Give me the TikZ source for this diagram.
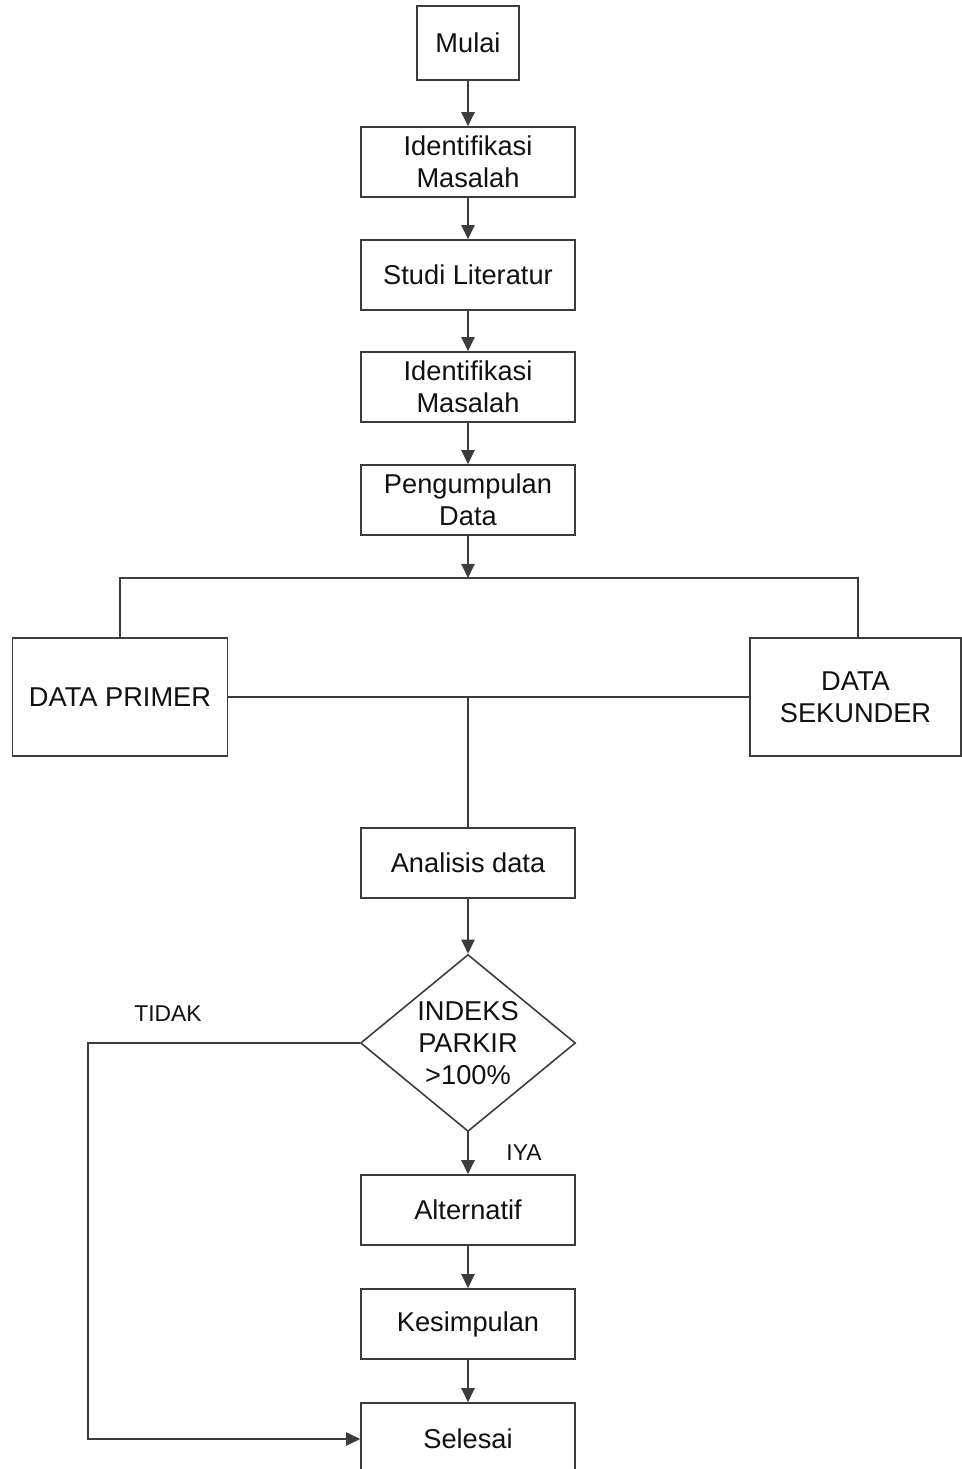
\documentclass[tikz,border=0pt]{standalone}
\usepackage{fontspec}
\setmainfont{Liberation Sans}[Ligatures=CommonOff]
\usepackage{tikz}
\usetikzlibrary{shapes.geometric,arrows.meta}
\definecolor{linec}{HTML}{3C3C3C}
\definecolor{textc}{HTML}{111111}
\tikzset{
  stepbox/.style={draw=linec, line width=0.9pt, fill=white, text=textc, align=center, inner sep=2pt,
    minimum width=4.28cm, minimum height=1.4cm, font=\fontsize{15.5}{18}\selectfont},
  databox/.style={stepbox, minimum height=2.36cm},
  decide/.style={draw=linec, line width=0.9pt, diamond, aspect=1.21, inner sep=0pt, text=textc, align=center,
    minimum width=4.3cm, minimum height=3.54cm, font=\fontsize{15.5}{18}\selectfont},
  flow/.style={draw=linec, line width=0.9pt, -{Triangle[length=8pt,width=7.5pt]}},
  link/.style={draw=linec, line width=0.9pt},
  answer/.style={text=textc, font=\fontsize{13}{16}\selectfont},
}
\begin{document}
\begin{tikzpicture}[x=0.02cm,y=-0.02cm]
\useasboundingbox[fill=white] (0,0) rectangle (961,1469);
\node[stepbox, minimum width=2.04cm, minimum height=1.48cm] (mulai) at (468,43) {Mulai};
\node[stepbox] (idmasalah) at (468,162) {Identifikasi\\Masalah};
\node[stepbox] (studi) at (468,275) {Studi Literatur};
\node[stepbox] (idmasalahb) at (468,387) {Identifikasi\\Masalah};
\node[stepbox] (kumpul) at (468,500) {Pengumpulan\\Data};
\coordinate (split) at (468,578);
\node[databox, minimum width=4.3cm] (primer) at (120,697) {DATA PRIMER};
\node[databox, minimum width=4.22cm] (sekunder) at (855.5,697) {DATA\\SEKUNDER};
\coordinate (merge) at (468,697);
\coordinate (kanan) at (858,638);
\node[stepbox] (analisis) at (468,863) {Analisis data};
\node[decide] (indeks) at (468,1043) {INDEKS\\PARKIR\\>100\%};
\node[stepbox] (alternatif) at (468,1210) {Alternatif};
\node[stepbox] (kesimpulan) at (468,1324) {Kesimpulan};
\node[stepbox, minimum height=1.44cm] (selesai) at (468,1439) {Selesai};
\node[answer] (tidak) at (168,1014) {TIDAK};
\node[answer] (iya) at (524,1153) {IYA};
\coordinate (balik) at (88,1043);

\draw[flow] (mulai) -- (idmasalah);
\draw[flow] (idmasalah) -- (studi);
\draw[flow] (studi) -- (idmasalahb);
\draw[flow] (idmasalahb) -- (kumpul);
\draw[flow] (kumpul) -- (split);
\draw[link] (primer.north) |- (split) -| (kanan);
\draw[link] (primer) -- (sekunder);
\draw[link] (merge) -- (analisis);
\draw[flow] (analisis) -- (indeks);
\draw[flow] (indeks) -- (alternatif);
\draw[flow] (alternatif) -- (kesimpulan);
\draw[flow] (kesimpulan) -- (selesai);
\draw[flow] (indeks.west) -- (balik) |- (selesai);
\end{tikzpicture}
\end{document}
